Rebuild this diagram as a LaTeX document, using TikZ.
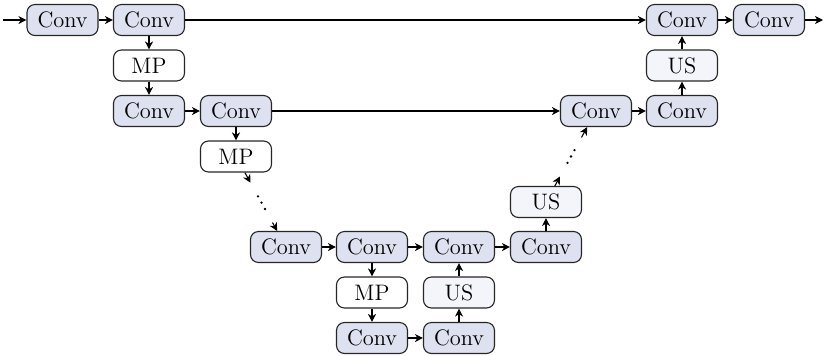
\documentclass[tikz,border=0pt]{standalone}
\usetikzlibrary{arrows.meta,calc}
\definecolor{convfill}{RGB}{222,226,240}
\definecolor{usfill}{RGB}{244,245,250}
\tikzset{
  blk/.style={draw=black!85, rounded corners=4pt, minimum width=35.5pt, minimum height=15.5pt, inner sep=0pt, line width=0.55pt, font=\fontsize{11.2}{13}\selectfont},
  conv/.style={blk, fill=convfill},
  mp/.style={blk, fill=white},
  us/.style={blk, fill=usfill},
  arr/.style={-{Stealth[length=4pt,width=4pt,inset=1.2pt]}, line width=0.55pt},
}
\begin{document}
\begin{tikzpicture}[x=0.5pt,y=-0.5pt]
\useasboundingbox (0,0) rectangle (825,355);
% row 1
\coordinate (in) at (3,20);
\coordinate (out) at (823,20);
\node[conv] (a1) at (62.5,20) {Conv};
\node[conv] (b1) at (149,20) {Conv};
\node[conv] (r1a) at (682,20) {Conv};
\node[conv] (r1b) at (769,20) {Conv};
% row 2
\node[mp] (mp1) at (149,65.5) {MP};
\node[us] (us1) at (682,65.5) {US};
% row 3
\node[conv] (c3a) at (149,111) {Conv};
\node[conv] (c3b) at (236,111) {Conv};
\node[conv] (r3a) at (596,111) {Conv};
\node[conv] (r3b) at (682,111) {Conv};
% row 4
\node[mp] (mp2) at (236,156.5) {MP};
% row 4.5
\node[us] (us2) at (546,202) {US};
% row 5
\node[conv] (c5a) at (286,247) {Conv};
\node[conv] (c5b) at (372,247) {Conv};
\node[conv] (c5c) at (459,247) {Conv};
\node[conv] (c5d) at (546,247) {Conv};
% row 6
\node[mp] (mp3) at (372,292.5) {MP};
\node[us] (us3) at (459,292.5) {US};
% row 7
\node[conv] (c7a) at (372,338) {Conv};
\node[conv] (c7b) at (459,338) {Conv};

% connectors
\draw[arr] (in) -- (a1);
\draw[arr] (a1) -- (b1);
\draw[arr] (b1) -- (r1a);
\draw[arr] (r1a) -- (r1b);
\draw[arr] (r1b) -- (out);
\draw[arr] (b1) -- (mp1);
\draw[arr] (mp1) -- (c3a);
\draw[arr] (c3a) -- (c3b);
\draw[arr] (c3b) -- (r3a);
\draw[arr] (r3a) -- (r3b);
\draw[arr] (r3b) -- (us1);
\draw[arr] (us1) -- (r1a);
\draw[arr] (c3b) -- (mp2);
\draw[arr] (c5a) -- (c5b);
\draw[arr] (c5b) -- (mp3);
\draw[arr] (mp3) -- (c7a);
\draw[arr] (c7a) -- (c7b);
\draw[arr] (c7b) -- (us3);
\draw[arr] (us3) -- (c5c);
\draw[arr] (c5b) -- (c5c);
\draw[arr] (c5c) -- (c5d);
\draw[arr] (c5d) -- (us2);
% dotted skip down
\draw[arr] (mp2) -- ($(mp2)!0.29!(c5a)$);
\foreach \f in {0.44,0.51,0.58} \fill ($(mp2)!\f!(c5a)$) circle (0.65pt);
\draw[arr] ($(mp2)!0.73!(c5a)$) -- (c5a);
% dotted skip up
\draw[arr] (us2) -- ($(us2)!0.28!(r3a)$);
\foreach \f in {0.43,0.50,0.57} \fill ($(us2)!\f!(r3a)$) circle (0.65pt);
\draw[arr] ($(us2)!0.71!(r3a)$) -- (r3a);
\end{tikzpicture}
\end{document}
